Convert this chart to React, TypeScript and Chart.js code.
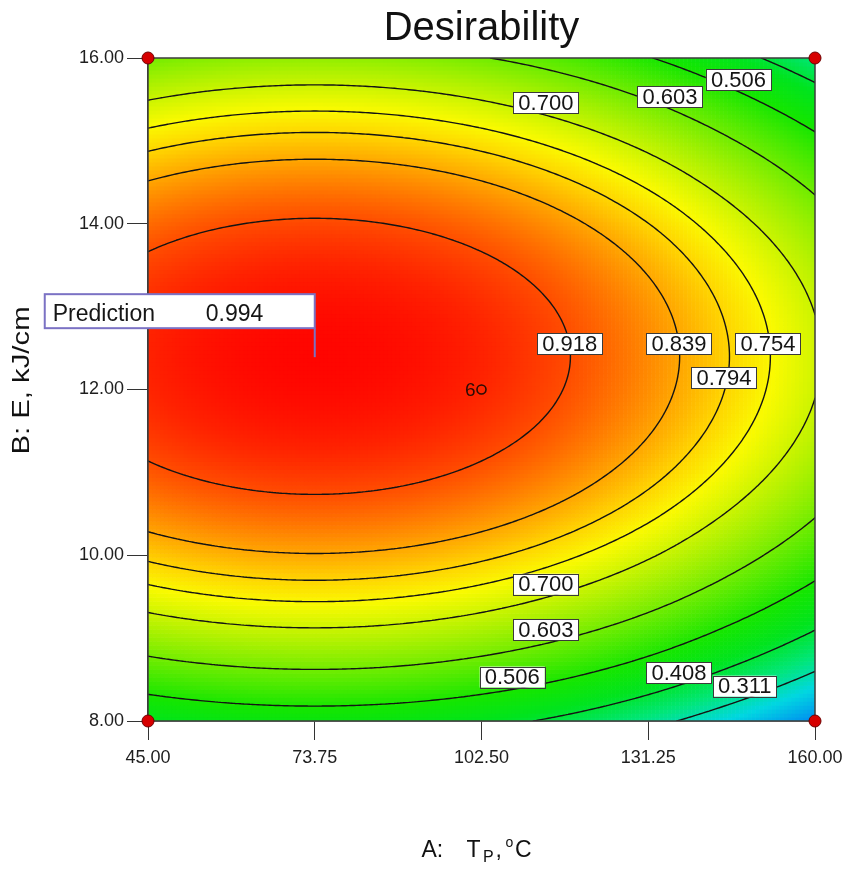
import { useEffect, useRef } from 'react';
import { Chart, registerables } from 'chart.js';

Chart.register(...registerables);

// ---------- data ----------
// A: T_P (°C) grid positions
const tempGrid = [45, 59.375, 73.75, 88.125, 102.5, 116.875, 131.25, 145.625, 160];
// B: E (kJ/cm) grid positions
const energyGrid = [8, 9, 10, 11, 12, 13, 14, 15, 16];
// desirability read at the grid nodes; one row per energy value (bottom to top)
const desirabilityB8 = [0.4312, 0.4554, 0.4635, 0.4554, 0.4312, 0.3908, 0.3342, 0.2615, 0.1765];
const desirabilityB9 = [0.645, 0.6692, 0.6773, 0.6692, 0.645, 0.6046, 0.548, 0.4753, 0.3903];
const desirabilityB10 = [0.8039, 0.8281, 0.8362, 0.8281, 0.8039, 0.7635, 0.7069, 0.6342, 0.5492];
const desirabilityB11 = [0.908, 0.9322, 0.9403, 0.9322, 0.908, 0.8676, 0.811, 0.7383, 0.6533];
const desirabilityB12 = [0.9573, 0.9815, 0.9896, 0.9815, 0.9573, 0.9169, 0.8603, 0.7876, 0.7026];
const desirabilityB13 = [0.9518, 0.976, 0.9841, 0.976, 0.9518, 0.9114, 0.8548, 0.7821, 0.6971];
const desirabilityB14 = [0.8916, 0.9158, 0.9239, 0.9158, 0.8916, 0.8512, 0.7946, 0.7219, 0.6369];
const desirabilityB15 = [0.7765, 0.8007, 0.8088, 0.8007, 0.7765, 0.7361, 0.6795, 0.6068, 0.5218];
const desirabilityB16 = [0.6066, 0.6308, 0.6389, 0.6308, 0.6066, 0.5662, 0.5096, 0.4369, 0.3519];

const contourLevels = [0.311, 0.408, 0.506, 0.603, 0.7, 0.754, 0.794, 0.839, 0.918];

// contour labels: value and position (A, B)
const labelValues = ['0.918', '0.839', '0.754', '0.794', '0.700', '0.603', '0.506', '0.700', '0.603', '0.506', '0.408', '0.311'];
const labelA = [117.7, 136.55, 151.9, 144.3, 113.6, 135.0, 146.8, 113.6, 113.6, 107.8, 136.55, 147.9];
const labelB = [12.55, 12.55, 12.55, 12.14, 15.46, 15.53, 15.74, 9.65, 9.1, 8.53, 8.58, 8.42];

const xTickValues = [45, 73.75, 102.5, 131.25, 160];
const yTickValues = [8, 10, 12, 14, 16];

// design points
const designA = [45, 160, 45, 160];
const designB = [16, 16, 8, 8];
const centerA = [102.5];
const centerB = [12];
const centerReplicates = ['6'];

// prediction flag
const predictionA = 73.75;
const predictionB = 12.39;
const predictionValue = '0.994';

const titleText = 'Desirability';
const yTitleText = 'B: E, kJ/cm';

// ---------- helpers ----------
const FONT = '"Liberation Sans", Arial, Helvetica, sans-serif';

const gridRows = [
  desirabilityB8, desirabilityB9, desirabilityB10, desirabilityB11, desirabilityB12,
  desirabilityB13, desirabilityB14, desirabilityB15, desirabilityB16,
];

// extended grid with quadratic ghost nodes for Catmull-Rom sampling
function buildExtended(rows: number[][]): number[][] {
  const withCols = rows.map((r) => {
    const n = r.length;
    return [3 * r[0] - 3 * r[1] + r[2], ...r, 3 * r[n - 1] - 3 * r[n - 2] + r[n - 3]];
  });
  const m = withCols.length;
  const first = withCols[0].map((_, i) => 3 * withCols[0][i] - 3 * withCols[1][i] + withCols[2][i]);
  const last = withCols[0].map((_, i) => 3 * withCols[m - 1][i] - 3 * withCols[m - 2][i] + withCols[m - 3][i]);
  return [first, ...withCols, last];
}
const EXT = buildExtended(gridRows);

function cr(p0: number, p1: number, p2: number, p3: number, t: number) {
  return 0.5 * (2 * p1 + (-p0 + p2) * t + (2 * p0 - 5 * p1 + 4 * p2 - p3) * t * t + (-p0 + 3 * p1 - 3 * p2 + p3) * t * t * t);
}

function surface(a: number, b: number): number {
  const nA = tempGrid.length - 1;
  const nB = energyGrid.length - 1;
  const u = ((a - tempGrid[0]) / (tempGrid[nA] - tempGrid[0])) * nA;
  const v = ((b - energyGrid[0]) / (energyGrid[nB] - energyGrid[0])) * nB;
  const i = Math.max(0, Math.min(nA - 1, Math.floor(u)));
  const j = Math.max(0, Math.min(nB - 1, Math.floor(v)));
  const tu = u - i;
  const tv = v - j;
  const col: number[] = [];
  for (let k = 0; k < 4; k++) {
    const row = EXT[j + k];
    col.push(cr(row[i], row[i + 1], row[i + 2], row[i + 3], tu));
  }
  return cr(col[0], col[1], col[2], col[3], tv);
}

const STOPS: number[][] = [
  [0.0, 0, 0, 255],
  [0.1, 0, 70, 250],
  [0.18, 0, 140, 240],
  [0.27, 0, 215, 225],
  [0.35, 0, 230, 120],
  [0.43, 0, 228, 30],
  [0.5, 20, 230, 0],
  [0.6, 110, 236, 0],
  [0.68, 185, 242, 0],
  [0.75, 250, 250, 0],
  [0.8, 255, 208, 0],
  [0.84, 255, 165, 0],
  [0.88, 255, 120, 0],
  [0.92, 255, 75, 0],
  [0.96, 255, 35, 0],
  [1.0, 255, 0, 0],
];
function colorFor(v: number): string {
  const x = Math.max(0, Math.min(1, v));
  for (let k = 1; k < STOPS.length; k++) {
    if (x <= STOPS[k][0]) {
      const s0 = STOPS[k - 1];
      const s1 = STOPS[k];
      const t = (x - s0[0]) / (s1[0] - s0[0]);
      const r = Math.round(s0[1] + (s1[1] - s0[1]) * t);
      const g = Math.round(s0[2] + (s1[2] - s0[2]) * t);
      const bl = Math.round(s0[3] + (s1[3] - s0[3]) * t);
      return `rgb(${r},${g},${bl})`;
    }
  }
  return 'rgb(255,0,0)';
}

// ---------- plugins ----------
const surfacePlugin = {
  id: 'desirabilitySurface',
  beforeDatasetsDraw(chart: any) {
    const { ctx, chartArea: ca, scales } = chart;
    const xs = scales.x;
    const ys = scales.y;
    const aMin = xs.min, aMax = xs.max, bMin = ys.min, bMax = ys.max;
    ctx.save();
    ctx.beginPath();
    ctx.rect(ca.left, ca.top, ca.right - ca.left, ca.bottom - ca.top);
    ctx.clip();

    // colour field
    const nCol = Math.round((ca.right - ca.left) / 4);
    const nRow = Math.round((ca.bottom - ca.top) / 4);
    for (let r = 0; r < nRow; r++) {
      const b0 = bMin + ((bMax - bMin) * r) / nRow;
      const b1 = bMin + ((bMax - bMin) * (r + 1)) / nRow;
      const yTop = ys.getPixelForValue(b1);
      const yBot = ys.getPixelForValue(b0);
      const bc = (b0 + b1) / 2;
      for (let c = 0; c < nCol; c++) {
        const a0 = aMin + ((aMax - aMin) * c) / nCol;
        const a1 = aMin + ((aMax - aMin) * (c + 1)) / nCol;
        const xL = xs.getPixelForValue(a0);
        const xR = xs.getPixelForValue(a1);
        ctx.fillStyle = colorFor(surface((a0 + a1) / 2, bc));
        ctx.fillRect(xL, yTop, xR - xL + 0.6, yBot - yTop + 0.6);
      }
    }

    // contour lines (marching squares on the sampled field)
    const nx = 231, ny = 201;
    const vals: number[][] = [];
    for (let j = 0; j < ny; j++) {
      const b = bMin + ((bMax - bMin) * j) / (ny - 1);
      const row: number[] = [];
      for (let i = 0; i < nx; i++) row.push(surface(aMin + ((aMax - aMin) * i) / (nx - 1), b));
      vals.push(row);
    }
    ctx.strokeStyle = '#141414';
    ctx.lineWidth = 1.4;
    ctx.lineCap = 'round';
    ctx.lineJoin = 'round';
    ctx.beginPath();
    for (const level of contourLevels) {
      for (let j = 0; j < ny - 1; j++) {
        for (let i = 0; i < nx - 1; i++) {
          const v00 = vals[j][i], v10 = vals[j][i + 1], v01 = vals[j + 1][i], v11 = vals[j + 1][i + 1];
          const pts: number[][] = [];
          if ((v00 < level) !== (v10 < level)) pts.push([i + (level - v00) / (v10 - v00), j]);
          if ((v10 < level) !== (v11 < level)) pts.push([i + 1, j + (level - v10) / (v11 - v10)]);
          if ((v01 < level) !== (v11 < level)) pts.push([i + (level - v01) / (v11 - v01), j + 1]);
          if ((v00 < level) !== (v01 < level)) pts.push([i, j + (level - v00) / (v01 - v00)]);
          for (let k = 0; k + 1 < pts.length; k += 2) {
            const p0 = pts[k], p1 = pts[k + 1];
            const x0 = xs.getPixelForValue(aMin + ((aMax - aMin) * p0[0]) / (nx - 1));
            const y0 = ys.getPixelForValue(bMin + ((bMax - bMin) * p0[1]) / (ny - 1));
            const x1 = xs.getPixelForValue(aMin + ((aMax - aMin) * p1[0]) / (nx - 1));
            const y1 = ys.getPixelForValue(bMin + ((bMax - bMin) * p1[1]) / (ny - 1));
            ctx.moveTo(x0, y0);
            ctx.lineTo(x1, y1);
          }
        }
      }
    }
    ctx.stroke();
    ctx.restore();

    // plot frame
    ctx.save();
    ctx.strokeStyle = '#3c3c3c';
    ctx.lineWidth = 1.5;
    ctx.strokeRect(ca.left, ca.top, ca.right - ca.left, ca.bottom - ca.top);
    ctx.restore();

    // contour labels
    ctx.save();
    ctx.font = `22px ${FONT}`;
    ctx.textAlign = 'center';
    ctx.textBaseline = 'middle';
    labelValues.forEach((txt, k) => {
      const x = xs.getPixelForValue(labelA[k]);
      const y = ys.getPixelForValue(labelB[k]);
      const w = ctx.measureText(txt).width + 10;
      const h = 21;
      ctx.fillStyle = '#ffffff';
      ctx.fillRect(x - w / 2, y - h / 2, w, h);
      ctx.strokeStyle = '#3a3a3a';
      ctx.lineWidth = 1;
      ctx.strokeRect(Math.round(x - w / 2) + 0.5, Math.round(y - h / 2) + 0.5, Math.round(w), h);
      ctx.fillStyle = '#151515';
      ctx.fillText(txt, x, y + 1);
    });

    // replicate count beside the centre point
    ctx.font = `19px ${FONT}`;
    ctx.textAlign = 'right';
    ctx.fillStyle = '#2a0c05';
    centerReplicates.forEach((txt, k) => {
      ctx.fillText(txt, xs.getPixelForValue(centerA[k]) - 6, ys.getPixelForValue(centerB[k]) + 1);
    });
    ctx.restore();
  },
  afterDatasetsDraw(chart: any) {
    const { ctx, scales } = chart;
    const x = scales.x.getPixelForValue(predictionA);
    const y = scales.y.getPixelForValue(predictionB);
    const boxW = 270, boxH = 34;
    const boxR = x, boxB = y - 29;
    ctx.save();
    ctx.fillStyle = '#ffffff';
    ctx.fillRect(boxR - boxW, boxB - boxH, boxW, boxH);
    ctx.strokeStyle = '#7b72c4';
    ctx.lineWidth = 2;
    ctx.strokeRect(boxR - boxW, boxB - boxH, boxW, boxH);
    ctx.beginPath();
    ctx.moveTo(x, boxB);
    ctx.lineTo(x, y);
    ctx.stroke();
    ctx.font = `23px ${FONT}`;
    ctx.fillStyle = '#161616';
    ctx.textAlign = 'left';
    ctx.textBaseline = 'alphabetic';
    ctx.fillText('Prediction', boxR - boxW + 8, boxB - 7);
    ctx.fillText(predictionValue, boxR - boxW + 161, boxB - 7);
    ctx.restore();
  },
  afterDraw(chart: any) {
    const { ctx, chartArea: ca } = chart;
    const cx = (ca.left + ca.right) / 2;
    ctx.save();
    ctx.fillStyle = '#111111';
    // title
    ctx.font = `40px ${FONT}`;
    ctx.textAlign = 'center';
    ctx.textBaseline = 'alphabetic';
    ctx.fillText(titleText, cx, ca.top - 18);

    // y title (rotated)
    ctx.save();
    ctx.translate(22, (ca.top + ca.bottom) / 2 - 9);
    ctx.rotate(-Math.PI / 2);
    ctx.scale(1.22, 1);
    ctx.font = `24px ${FONT}`;
    ctx.textAlign = 'center';
    ctx.textBaseline = 'middle';
    ctx.fillText(yTitleText, 0, 0);
    ctx.restore();

    // x title with subscript / superscript
    const base = ca.bottom + 136;
    ctx.textAlign = 'left';
    ctx.font = `23px ${FONT}`;
    ctx.fillText('A:', cx - 60, base);
    ctx.fillText('T', cx - 15, base);
    ctx.font = `16px ${FONT}`;
    ctx.fillText('P', cx + 1.5, base + 5);
    ctx.font = `23px ${FONT}`;
    ctx.fillText(',', cx + 14, base);
    ctx.font = `14px ${FONT}`;
    ctx.fillText('o', cx + 24, base - 10);
    ctx.font = `23px ${FONT}`;
    ctx.fillText('C', cx + 33.5, base);
    ctx.restore();
  },
};

export default function App() {
  const ref = useRef<HTMLCanvasElement>(null);
  useEffect(() => {
    if (!ref.current) return;
    const chart = new Chart(ref.current, {
      type: 'scatter',
      data: {
        datasets: [
          {
            label: 'Design points',
            data: designA.map((a, i) => ({ x: a, y: designB[i] })),
            pointRadius: 6,
            pointBackgroundColor: '#d60000',
            pointBorderColor: '#700000',
            pointBorderWidth: 1,
            clip: false,
          } as any,
          {
            label: 'Centre point',
            data: centerA.map((a, i) => ({ x: a, y: centerB[i] })),
            pointRadius: 4.5,
            pointBackgroundColor: 'rgba(0,0,0,0)',
            pointBorderColor: '#2a0c05',
            pointBorderWidth: 1.6,
            clip: false,
          } as any,
        ],
      },
      options: {
        responsive: false,
        animation: false,
        devicePixelRatio: 1,
        layout: { padding: { top: 58, right: 37, bottom: 0, left: 0 } },
        plugins: {
          legend: { display: false },
          tooltip: { enabled: false },
          title: { display: false },
        },
        scales: {
          x: {
            type: 'linear',
            min: 45,
            max: 160,
            afterBuildTicks: (s: any) => {
              s.ticks = xTickValues.map((v) => ({ value: v }));
            },
            afterFit: (s: any) => {
              s.height = 148;
            },
            ticks: {
              callback: (v: any) => Number(v).toFixed(2),
              font: { size: 18, family: FONT },
              color: '#1e1e1e',
              padding: 7,
              maxRotation: 0,
              autoSkip: false,
            },
            grid: { drawOnChartArea: false, drawTicks: true, tickLength: 19, color: '#333333', lineWidth: 1 },
            border: { display: true, color: '#3c3c3c', width: 1.5 },
          },
          y: {
            type: 'linear',
            min: 8,
            max: 16,
            afterBuildTicks: (s: any) => {
              s.ticks = yTickValues.map((v) => ({ value: v }));
            },
            afterFit: (s: any) => {
              s.width = 148;
            },
            ticks: {
              callback: (v: any) => Number(v).toFixed(2),
              font: { size: 18, family: FONT },
              color: '#1e1e1e',
              padding: 3,
              autoSkip: false,
            },
            grid: { drawOnChartArea: false, drawTicks: true, tickLength: 21, color: '#333333', lineWidth: 1 },
            border: { display: true, color: '#3c3c3c', width: 1.5 },
          },
        },
      } as any,
      plugins: [surfacePlugin],
    });
    return () => chart.destroy();
  }, []);
  return (
    <div style={{ position: 'absolute', left: 0, top: 0, width: 852, height: 869, background: '#ffffff' }}>
      <canvas ref={ref} width={852} height={869} style={{ display: 'block' }} />
    </div>
  );
}
